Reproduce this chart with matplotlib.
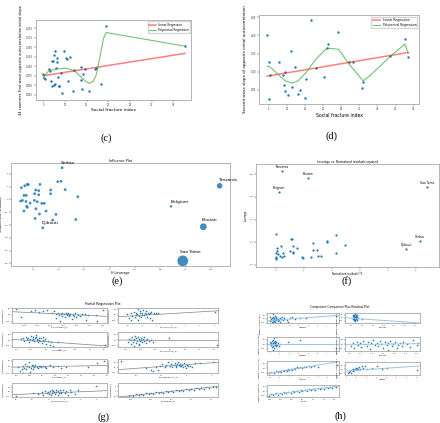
import numpy as np
import matplotlib
matplotlib.use("Agg")
import matplotlib.pyplot as plt

W, H = 440, 423
BLUE = '#1f77b4'
SPINE = '#a8a8a8'

# ---------------- (c) first wave slope vs social fracture index
c_x = [5.0, 5.2, 5.4, 6.2, 6.5, 6.7, 6.9, 7.1, 7.3, 7.5, 7.5, 7.7, 7.8, 7.9, 8.1, 8.2, 8.4, 8.5, 8.6, 9.0,
       9.3, 9.8, 10.2, 10.4, 10.8, 11.2, 11.9, 12.1, 13.6, 13.8, 14.0, 14.2, 14.6, 15.6, 16.9, 17.2, 18.2, 19.5, 37.7]
c_y = [0.079, 0.068, 0.066, 0.094, 0.088, 0.060, 0.047, 0.115, 0.115, 0.129, 0.050, 0.053, 0.139, 0.095, 0.123,
       0.110, 0.071, 0.048, 0.047, 0.082, 0.029, 0.141, 0.121, 0.120, 0.062, 0.125, 0.035, 0.089, 0.097, 0.064,
       0.040, 0.079, 0.094, 0.035, 0.093, 0.095, 0.054, 0.207, 0.153]
c_lin_x = [5.0, 37.7]
c_lin_y = [0.075, 0.134]
c_poly_x = [5.0, 6.2, 8.1, 10.0, 11.2, 12.4, 13.6, 14.8, 15.6, 16.5, 17.2, 18.0, 18.9, 19.5, 37.7]
c_poly_y = [0.070, 0.088, 0.093, 0.095, 0.092, 0.086, 0.073, 0.060, 0.055, 0.060, 0.077, 0.121, 0.174, 0.189, 0.153]

# ---------------- (d) second wave slope vs social fracture index
d_x = [4.45, 4.9, 5.1, 5.3, 7.8, 8.8, 9.0, 9.3, 9.5, 10.1, 11.0, 11.4, 12.2, 12.9, 13.5, 14.8, 15.3, 16.5,
       18.0, 20.2, 21.0, 21.4, 24.2, 27.0, 28.3, 30.8, 31.1, 38.6, 42.6, 43.5]
d_y = [0.200, 0.126, 0.025, 0.091, 0.126, 0.090, 0.063, 0.048, 0.100, 0.037, 0.157, 0.057, 0.113, 0.038, 0.050,
       0.029, 0.081, 0.241, 0.110, 0.087, 0.166, 0.175, 0.209, 0.126, 0.127, 0.056, 0.071, 0.144, 0.189, 0.141]
d_lin_x = [4.45, 43.5]
d_lin_y = [0.088, 0.153]
d_poly_x = [4.45, 5.3, 7.8, 9.5, 11.4, 13.0, 15.4, 18.0, 21.0, 24.2, 27.0, 31.0, 33.0, 38.6, 42.6, 43.5]
d_poly_y = [0.116, 0.113, 0.090, 0.075, 0.069, 0.075, 0.100, 0.135, 0.165, 0.162, 0.123, 0.075, 0.090, 0.143,
            0.176, 0.151]

# ---------------- (e) influence plot
e_lev = [0.213, 0.053, 0.066, 0.076, 0.080, 0.126, 0.196, 0.209, 0.225, 0.168, 0.168, 0.109, 0.121, 0.105,
         0.121, 0.063, 0.072, 0.275, 0.050, 0.057, 0.071, 0.087, 0.104, 0.115, 0.133, 0.143, 0.074, 0.076,
         0.063, 0.110, 0.150, 0.124, 0.189, 0.107, 0.176, 0.267, 0.137, 0.833, 0.642, 0.769, 0.688]
e_res = [2.47, 0.91, 1.06, 1.17, 1.15, 1.17, 1.38, 1.41, 0.76, 0.73, 0.44, 0.73, 0.68, 0.44, 0.36, 0.31, 0.31,
         0.21, -0.13, -0.08, -0.16, -0.29, -0.08, -0.19, -0.31, -0.31, -0.54, -0.62, -0.91, -0.73, -0.91,
         -1.14, -1.17, -1.49, -1.62, -1.57, -2.22, 1.06, -0.55, -2.14, -4.80]
e_size = [4] * 37 + [16, 3, 24, 60]
e_names = ['Serbia', 'Djibouti', 'Tanzania', 'Belgium', 'Bhutan', 'Sao Tome']
e_name_idx = [0, 36, 37, 38, 39, 40]

# ---------------- (f) leverage vs normalized residuals squared
f_res2 = [0.0, 0.02, 0.05, 0.0, -0.01, 0.01, 0.0, 0.08, 0.14, 0.18, 0.20, 0.26, 0.29, 0.50, 0.53, 0.56, 0.60,
          0.60, 0.62, 0.74, 0.92, 0.98, 1.25, 1.31, 1.34, 1.48, 1.51, 1.62, 1.82, 1.84, 2.13, 2.13, 2.47,
          0.20, 1.14, 0.11, 5.42, 5.16, 4.66]
f_lev = [0.272, 0.145, 0.124, 0.106, 0.068, 0.056, 0.053, 0.097, 0.074, 0.165, 0.065, 0.100, 0.077, 0.121,
         0.224, 0.224, 0.165, 0.109, 0.106, 0.148, 0.065, 0.056, 0.065, 0.189, 0.127, 0.127, 0.080, 0.077,
         0.198, 0.210, 0.266, 0.106, 0.171, 0.833, 0.769, 0.642, 0.688, 0.213, 0.137]
f_names = ['Tanzania', 'Bhutan', 'Belgium', 'Sao Tome', 'Serbia', 'Djibouti']
f_name_idx = [33, 34, 35, 36, 37, 38]

# ---------------- (g) partial regression plot, 8 panels
g1_x = [-0.184, -0.166, -0.125, -0.109, -0.094, -0.081, -0.063, -0.046, -0.038, -0.029, -0.021, -0.019, -0.013,
        -0.009, -0.006, 0.0, 0.004, 0.006, 0.010, 0.013, 0.016, 0.019, 0.021, 0.025, 0.029, 0.034, 0.038, 0.041,
        0.046, 0.054, 0.060, 0.069, 0.079, 0.084, 0.094, 0.121, 0.126, 0.151, -0.031, -0.015]
g1_y = [2.14, -0.60, 1.31, 1.67, 1.07, 1.43, 1.67, 0.83, 1.31, 0.48, 0.83, 0.0, 0.48, 0.71, -0.24, 0.24, -0.71,
        0.71, 0.0, 0.36, 0.83, -0.36, 0.12, 0.48, -1.31, 0.0, -0.24, 0.60, -0.71, 0.0, -0.24, 0.24, 0.48, -1.67,
        -0.12, 0.0, -2.14, 1.67, -0.95, -2.14]
g1_line = [1.19, -0.48]
g2_x = [-1.05, -0.93, -0.81, -0.70, -0.60, -0.53, -0.47, -0.42, -0.35, -0.30, -0.23, -0.19, -0.14, -0.07, -0.02,
        0.0, 0.05, 0.09, 0.16, 0.23, 0.28, 0.33, 0.40, 0.47, 0.51, 0.56, 0.63, 0.70, 0.79, 0.98, 1.09, -0.30,
        -0.77, 5.05]
g2_y = [0.16, -1.72, 0.63, -0.63, 1.25, -1.25, -0.16, 0.94, 0.31, -2.19, -0.47, 1.41, 0.63, -0.94, 0.0, 0.94,
        2.03, -0.31, 0.63, 0.31, 1.41, -0.94, 0.94, 0.16, -1.72, 0.63, 1.25, -2.5, 0.94, 0.78, 0.63, 2.5, -2.5,
        1.09]
g2_line = [-0.94, 1.72]
g3_x = [-0.86, -0.80, -0.75, -0.68, -0.64, -0.60, -0.57, -0.55, -0.51, -0.49, -0.45, -0.43, -0.41, -0.38, -0.35,
        -0.32, -0.30, -0.27, -0.25, -0.23, -0.20, -0.17, -0.15, -0.11, -0.09, -0.06, -0.02, 0.02, 0.08, 0.14,
        0.19, 0.23, 0.42, 2.01, -0.34]
g3_y = [0.31, 0.78, -0.31, 1.56, 0.31, 1.09, -0.78, 0.63, 1.88, 0.0, 1.25, 0.31, -0.63, 0.78, 1.56, 0.0, 0.47,
        -0.94, 1.09, 0.16, -0.31, 0.78, -1.25, 0.0, 1.25, -0.63, 0.31, -1.56, -0.47, -2.03, -0.78, -2.81, -0.78,
        -2.03, 2.34]
g3_line = [0.31, -2.66]
g4_x = [-0.94, -0.89, -0.85, -0.82, -0.80, -0.77, -0.74, -0.72, -0.69, -0.67, -0.65, -0.63, -0.60, -0.58, -0.56,
        -0.53, -0.51, -0.49, -0.45, -0.43, -0.41, -0.38, -0.34, -0.32, -0.28, -0.23, -0.15, -0.09, 0.45, 2.09,
        -0.57, -0.75]
g4_y = [-0.78, 0.31, -1.88, 0.0, 1.25, -0.94, 0.63, -0.16, 1.88, -1.25, 0.78, -0.31, 1.41, -1.56, 0.31, -0.63,
        1.09, 0.0, -1.09, 0.63, -0.47, 1.56, 0.0, -1.25, 0.47, -0.47, 0.16, -0.78, 0.78, -2.03, -2.34, -2.5]
g4_line = [0.0, -0.3]
g5_x = [-0.94, -0.87, -0.81, -0.74, -0.71, -0.67, -0.62, -0.58, -0.54, -0.51, -0.46, -0.42, -0.38, -0.36, -0.32,
        -0.28, -0.23, -0.19, -0.14, -0.10, -0.04, 0.03, 0.09, 0.15, 0.28, 0.41, 0.60, 0.73, 0.92, 1.76, 2.10,
        2.40, -0.49, -0.77]
g5_y = [0.0, -1.71, -1.05, 0.53, -0.39, 1.32, -0.79, 0.26, 1.97, 0.0, -0.53, 0.92, 0.26, -1.05, -0.13, 0.79,
        0.0, -0.53, 0.53, 0.13, -0.26, 0.53, 0.0, -0.53, 0.66, 0.0, 0.13, -0.39, -0.13, 0.0, 1.58, 2.24, -2.11,
        -2.37]
g5_line = [-0.13, 0.53]
g6_x = [-5.2, -3.2, -2.8, -2.4, -2.13, -1.92, -1.73, -1.6, -1.47, -1.33, -1.2, -1.12, -1.01, -0.93, -0.85, -0.8,
        -0.72, -0.67, -0.59, -0.53, -0.48, -0.4, -0.32, -0.27, -0.19, -0.13, -0.05, 0.05, 0.13, 0.27, 0.48, 0.67,
        1.07, 2.13, -2.67, -2.27]
g6_y = [2.83, -0.5, -1.33, 0.0, 0.67, 1.67, 0.0, 1.17, 2.33, 0.67, 1.67, 0.0, 1.17, 2.0, 0.67, 0.0, 1.5, 2.33,
        1.0, 0.33, 1.67, 0.67, 1.17, 0.0, 2.0, 0.67, -0.5, 1.17, 0.33, 0.67, 0.0, 2.0, 2.0, 2.33, -2.17, -1.67]
g6_line = [-1.33, 2.33]
g7_x = [-4.04, -1.88, -1.25, -0.83, -0.63, -0.42, -0.21, 0.0, 0.13, 0.21, 0.33, 0.42, 0.54, 0.63, 0.75, 0.83,
        0.96, 1.04, 1.17, 1.25, 1.38, 1.46, 1.58, 1.67, 1.88, 2.08, 2.29, 2.5, 2.71, 2.92, 3.33, 3.75, 6.04, 7.13]
g7_y = [-2.59, -0.74, -1.3, -0.37, -1.67, 0.56, -0.74, -0.19, -1.3, 0.19, -1.67, 1.11, -0.74, 0.56, -0.37,
        -1.11, 0.93, 0.0, -1.67, 0.56, -0.56, 1.11, -0.93, 0.0, 0.74, -0.74, 0.19, -1.67, 0.74, -0.37, -1.11,
        1.11, 2.96, -2.96]
g7_line = [-1.67, 0.56]
g8_x = [-0.45, -0.42, -0.38, -0.35, -0.32, -0.30, -0.28, -0.25, -0.22, -0.2, -0.18, -0.15, -0.12, -0.1, -0.08,
        -0.05, -0.03, 0.0, 0.02, 0.05, 0.08, 0.1, 0.12, 0.15, 0.18, 0.2, 0.23, 0.25, 0.28, 0.3, 0.33, 0.35, 0.38,
        0.42, 0.45]
g8_y = [-5.5, -4.2, -4.8, -3.1, -3.9, -2.7, -3.3, -2.0, -2.9, -1.5, -2.5, -1.0, -1.8, -0.5, -1.4, 0.3, -0.8, 0.5,
        -0.2, 1.0, 0.2, 1.6, 0.8, 2.0, 1.2, 2.5, 1.8, 3.0, 2.2, 3.5, 2.8, 4.0, 3.5, 4.6, 4.8]
g8_line = [-5.67, 5.0]
g_xlabels = ['e(lnfirstslope | X)', 'e(lnfirstcase0 | X)', 'e(lncases0 | X)', 'e(lnfirstcase1 | X)',
             'e(lncases1 | X)', 'e(lnhospital117 | X)', 'e(lnsocialfrac | X)', 'e(lnslope0 | X)']
g_ylabel = 'e(secondslope | X)'

# ---------------- (h) component-component plus residual plot, 7 panels
h1_x = [0.93, 1.0, 1.07, 1.11, 1.18, 1.21, 1.25, 1.28, 1.32, 1.35, 1.39, 1.42, 1.46, 1.49, 1.53, 1.56, 1.6, 1.63,
        1.70, 1.77, 1.84, 1.91, 1.98, 2.05, 2.12, 2.23, 2.33, 2.47, 2.75, 2.93, 3.11, 3.28, 3.63, 4.16, 4.79,
        8.02, 1.28]
h1_y = [-1.67, 1.04, -0.21, -1.04, 0.42, -1.88, 1.46, -0.63, -2.29, 0.0, 0.83, -1.25, 1.88, -0.42, -1.88, 0.42,
        -0.83, 1.25, -0.21, -1.46, 0.21, -0.83, 0.83, -2.08, -0.21, 1.46, -1.04, 0.42, -0.63, -2.08, 0.42, 1.04,
        -0.21, 0.42, 0.83, 1.88, 3.54]
h1_line = [-1.25, 2.5]
h2_x = [2.74, 2.82, 2.89, 2.89, 2.97, 3.05, 3.05, 3.13, 3.13, 3.21, 3.29, 3.29, 3.37, 3.37, 3.45, 3.45, 3.53, 3.53,
        3.6, 3.68, 3.68, 3.76, 3.84, 3.84, 4.08, 4.87, 17.5, 3.21]
h2_y = [2.71, 1.25, 0.0, -1.46, 2.08, 0.63, -0.83, 1.67, -2.08, 0.21, 3.13, -0.42, 1.04, -1.67, 2.08, -0.21, 0.63,
        -1.04, 1.67, 0.0, -1.88, 2.5, 0.83, -0.63, -0.21, -1.25, -4.17, -2.92]
h2_line = [0.0, -4.58]
h3_x = [1.0, 1.07, 1.11, 1.14, 1.18, 1.21, 1.25, 1.28, 1.32, 1.35, 1.39, 1.42, 1.46, 1.49, 1.53, 1.56, 1.6, 1.63,
        1.7, 1.77, 1.88, 2.05, 2.93, 4.16, 8.02, 1.28, 1.42]
h3_y = [1.54, -0.58, 0.58, -1.35, 1.92, 0.0, 0.96, -0.96, 2.5, 0.19, 1.35, -1.92, 0.58, -0.38, 1.73, -1.15, 0.38,
        1.15, -0.38, 0.77, -0.77, 0.19, 1.35, 2.12, -1.73, -3.27, 3.46]
h3_line = [0.0, 0.0]
h4_x = [10.03, 10.12, 10.19, 10.3, 10.37, 10.45, 10.52, 10.6, 10.67, 10.75, 10.82, 10.9, 10.97, 11.05, 11.12, 11.2,
        11.27, 11.35, 11.42, 11.5, 11.57, 11.65, 11.72, 11.8, 11.87, 11.95, 12.02, 12.1, 12.17, 12.25, 12.32,
        12.4, 12.55, 12.7, 12.85, 13.0, 13.07, 11.72]
h4_y = [-0.96, 0.58, -1.92, 1.54, -0.38, 0.96, -1.35, 1.92, 0.19, -0.77, 1.35, -2.31, 0.58, 2.5, -0.38, 0.96,
        -1.15, 1.73, 0.0, -1.73, 1.15, -0.58, 0.58, 1.92, -1.15, 0.19, 1.35, -2.12, -0.19, 0.96, -0.96, 1.54,
        0.19, -1.35, 2.12, -0.38, 0.96, -2.88]
h4_line = [-0.19, 0.38]
h5_x = [-1.1, -0.9, -0.6, -0.4, -0.2, 0.0, 0.1, 0.3, 0.4, 0.6, 0.7, 0.9, 1.0, 1.2, 1.3, 1.5, 1.6, 1.8, 1.9, 2.1,
        2.3, 2.5, 2.7, 3.0, 3.3, 3.6, 4.0, 6.0]
h5_y = [-2.9, -2.3, -2.6, -1.7, -2.2, -1.4, -2.0, -1.0, -1.6, -0.8, -1.3, -0.4, -1.0, -0.1, -0.7, 0.3, -0.2, 0.5,
        0.0, 0.9, 0.3, 1.0, 0.6, 1.4, 0.8, 1.5, 0.7, 2.0]
h5_line = [-2.88, 3.85]
h6_x = [0.83, 1.33, 1.67, 2.0, 2.5, 3.0, 3.33, 3.67, 4.17, 4.5, 5.0, 5.33, 5.83, 6.33, 6.67, 7.5, 8.33, 9.17, 10.0,
        12.5, 15.0, 17.5, 20.0, 35.0]
h6_y = [-2.73, -1.59, -0.91, -2.27, -0.45, -1.14, 0.45, -0.68, 0.0, 0.91, -0.45, 1.36, 0.23, 1.82, 0.68, 2.27,
        1.14, 2.73, 0.0, 1.36, 2.27, 0.0, 1.36, -0.45]
h6_line = [-1.14, 2.5]
h7_x = [-0.62, -0.58, -0.55, -0.5, -0.45, -0.42, -0.38, -0.35, -0.3, -0.27, -0.22, -0.18, -0.15, -0.1, -0.07,
        -0.03, 0.0, 0.04, 0.08, 0.12, 0.15, 0.2, 0.24, 0.28, 0.32, 0.35, 0.4, 0.43, 0.47, 0.52, 0.55, 0.6, 0.62]
h7_y = [-2.8, -1.6, -2.2, -1.2, -1.9, -1.0, -1.6, -0.7, -1.3, -0.4, -1.0, -0.1, -0.7, 0.3, -0.4, 0.5, -0.1, 0.8,
        0.2, 1.1, 0.5, 1.4, 0.8, 1.7, 1.1, 2.0, 1.4, 2.3, 1.8, 2.6, 2.0, 2.9, 2.3]
h7_line = [-2.31, 2.88]
h_xlabels = ['lncases0', 'secondB', 'lncases1', 'secondE', 'lnfirst17', 'lncases', 'lnslope']


fig = plt.figure(figsize=(W / 100, H / 100), dpi=100)


def px_axes(l, t, r, b):
    return fig.add_axes([l / W, 1 - b / H, (r - l) / W, (b - t) / H])


def style(ax, tsize=1.8):
    for s in ax.spines.values():
        s.set_color(SPINE)
        s.set_linewidth(0.6)
    ax.tick_params(labelsize=tsize, length=1.2, width=0.3, pad=0.8, colors='#333333')


def caption(x, y, txt):
    fig.text(x / W, 1 - y / H, txt, ha='center', va='center', fontsize=7.5, family='Liberation Serif')


# (c)
ax = px_axes(36, 20, 191, 100)
ax.scatter(c_x, c_y, s=3, color=BLUE, lw=0)
ax.plot(c_lin_x, c_lin_y, color='red', lw=1.1, alpha=0.5, label='Linear Regression')
ax.plot(c_poly_x, c_poly_y, color='#2ca02c', lw=0.8, alpha=0.65, label='Polynomial Regression')
ax.set_xlim(3.3, 39.1)
ax.set_ylim(0.011, 0.222)
ax.set_xticks(range(5, 40, 5))
ax.set_yticks([0.025, 0.05, 0.075, 0.1, 0.125, 0.15, 0.175, 0.2])
ax.yaxis.set_major_formatter(matplotlib.ticker.FormatStrFormatter('%.3f'))
style(ax)
ax.set_xlabel('Social fracture index', fontsize=3.2, labelpad=1)
ax.set_ylabel('44 countries First wave opposite autocorrelation initial slope', fontsize=2.6, labelpad=2)
ax.legend(fontsize=2, loc='upper right', frameon=True, framealpha=0.8, borderpad=0.4, handlelength=2.5)
caption(106, 138, '(c)')

# (d)
ax = px_axes(259, 15, 419, 104)
ax.scatter(d_x, d_y, s=3, color=BLUE, lw=0)
ax.plot(d_lin_x, d_lin_y, color='red', lw=1.1, alpha=0.5, label='Linear Regression')
ax.plot(d_poly_x, d_poly_y, color='#2ca02c', lw=0.8, alpha=0.65, label='Polynomial Regression')
ax.set_xlim(2.2, 46.5)
ax.set_ylim(0.0115, 0.256)
ax.set_xticks(range(5, 50, 5))
ax.set_yticks([0.05, 0.1, 0.15, 0.2, 0.25])
style(ax)
ax.set_xlabel('Social fracture index', fontsize=3.3, labelpad=1.5)
ax.set_ylabel('Second wave slope of opposite initial autocorrelation', fontsize=2.9, labelpad=3)
ax.legend(fontsize=2.2, loc='upper right', frameon=True, framealpha=0.8, borderpad=0.4, handlelength=2.5)
caption(331, 136, '(d)')

# (e)
ax = px_axes(11, 163, 230, 266)
ax.scatter(e_lev, e_res, s=e_size, color=BLUE, alpha=0.85, lw=0)
for name, i in zip(e_names, e_name_idx):
    r = np.sqrt(e_size[i]) / 2
    ax.annotate(name, (e_lev[i], e_res[i]), xytext=(-r * 0.6, r + 0.8), textcoords='offset points',
                fontsize=3.2, ha='left', va='bottom', annotation_clip=False)
ax.set_xlim(0.012, 0.874)
ax.set_ylim(-5.2, 2.84)
ax.set_xticks([0.1, 0.2, 0.3, 0.4, 0.5, 0.6, 0.7, 0.8])
ax.set_yticks(range(-5, 3))
style(ax, 1.7)
ax.set_title('Influence Plot', fontsize=2.4, pad=1)
ax.set_xlabel('H Leverage', fontsize=2.3, labelpad=1)
ax.set_ylabel('Studentized Residuals', fontsize=2.3, labelpad=1)
caption(117, 281, '(e)')

# (f)
ax = px_axes(256, 164, 439, 267)
ax.scatter(f_res2, f_lev, s=2.5, color=BLUE, lw=0)
for name, i in zip(f_names, f_name_idx):
    ax.annotate(name, (f_res2[i], f_lev[i]), xytext=(0, 1.5), textcoords='offset points',
                fontsize=2.2, ha='center', va='bottom')
ax.set_xlim(-0.72, 5.84)
ax.set_ylim(-0.02, 0.892)
ax.set_xticks(range(0, 6))
ax.set_yticks([0.0, 0.2, 0.4, 0.6, 0.8])
style(ax, 1.7)
ax.set_title('Leverage vs. Normalized residuals squared', fontsize=2.1, pad=1)
ax.set_xlabel('Normalized residuals**2', fontsize=1.8, labelpad=1)
ax.set_ylabel('Leverage', fontsize=1.8, labelpad=1)
caption(347, 281, '(f)')


def small_panel(box, x, y, line, xlim, ylim, xticks, yticks, xlabel, ylabel, lcolor, lw, ylab_pos=0.5):
    a = px_axes(*box)
    a.scatter(x, y, s=1.3, color=BLUE, lw=0)
    a.plot(xlim, line, color=lcolor, lw=lw)
    a.set_xlim(*xlim)
    a.set_ylim(*ylim)
    a.set_xticks(xticks)
    a.set_yticks(yticks)
    style(a, 1.3)
    a.tick_params(length=0.8, pad=0.5)
    a.set_xlabel(xlabel, fontsize=1.4, labelpad=0.5)
    a.set_ylabel(ylabel, fontsize=1.1, labelpad=0.5)
    if ylab_pos != 0.5:
        a.yaxis.set_label_coords(-0.09, ylab_pos)
    return a


# (g)
gcol = '#808080'
fig.text(103 / W, 1 - 304 / H, 'Partial Regression Plot', ha='center', va='center', fontsize=2.3)
g_rows = [(308, 323), (332, 347), (359, 373), (383, 397)]
g_cols = [(12, 107), (118, 218)]
g_data = [(g1_x, g1_y, g1_line, (-0.199, 0.165), (-2.86, 2.26), [-0.15, -0.1, -0.05, 0, 0.05, 0.1, 0.15], [-2.5, 0, 2.5]),
          (g2_x, g2_y, g2_line, (-1.7, 5.28), (-3.75, 2.97), range(-1, 6), [-2.5, 0, 2.5]),
          (g3_x, g3_y, g3_line, (-1.16, 2.09), (-3.13, 3.6), [-1, -0.5, 0, 0.5, 1, 1.5, 2], [-2.5, 0, 2.5]),
          (g4_x, g4_y, g4_line, (-1.28, 2.13), (-3.13, 3.6), [-1, -0.5, 0, 0.5, 1, 1.5, 2], [-2.5, 0, 2.5]),
          (g5_x, g5_y, g5_line, (-1.18, 2.49), (-2.37, 3.16), [-1, -0.5, 0, 0.5, 1, 1.5, 2, 2.5], [-2.5, 0, 2.5]),
          (g6_x, g6_y, g6_line, (-5.47, 2.53), (-3.0, 4.0), [-4, -2, 0, 2], [-2.5, 0, 2.5]),
          (g7_x, g7_y, g7_line, (-4.54, 7.38), (-2.96, 4.81), [-4, -2, 0, 2, 4, 6], [-2.5, 0, 2.5]),
          (g8_x, g8_y, g8_line, (-0.533, 0.467), (-5.67, 8.3), [-0.4, -0.2, 0.0, 0.2, 0.4], [-5, 0, 5])]
for k, (gx, gy, gl, xl, yl, xt, yt) in enumerate(g_data):
    r, c = divmod(k, 2)
    box = (g_cols[c][0], g_rows[r][0], g_cols[c][1], g_rows[r][1])
    small_panel(box, gx, gy, gl, xl, yl, xt, yt, g_xlabels[k], g_ylabel, gcol, 0.5)
caption(103, 417, '(g)')

# (h)
hcol = '#9cc3e4'
fig.text(340 / W, 1 - 307 / H, 'Component-Component Plus Residual Plot', ha='center', va='center', fontsize=2.1)
h_boxes = [(267, 313, 339, 323), (345, 313, 420, 323), (267, 337, 339, 351), (345, 337, 420, 351),
           (267, 361, 339, 375), (345, 362, 420, 375), (267, 385, 339, 397)]
h_data = [(h1_x, h1_y, h1_line, (0.65, 8.3), (-2.71, 3.96), range(1, 9), [-2.5, 0, 2.5]),
          (h2_x, h2_y, h2_line, (0.92, 18.68), (-4.58, 4.17), [2.5, 5, 7.5, 10, 12.5, 15, 17.5], [-2.5, 0, 2.5]),
          (h3_x, h3_y, h3_line, (0.65, 8.3), (-3.65, 4.04), range(1, 9), [-2.5, 0, 2.5]),
          (h4_x, h4_y, h4_line, (9.78, 13.15), (-3.65, 4.04), [10, 10.5, 11, 11.5, 12, 12.5, 13], [-2.5, 0, 2.5]),
          (h5_x, h5_y, h5_line, (-1.34, 6.17), (-3.85, 4.23), range(-1, 7), [-2.5, 0, 2.5]),
          (h6_x, h6_y, h6_line, (-0.83, 36.67), (-3.86, 5.23), range(0, 40, 5), [-2.5, 0, 2.5]),
          (h7_x, h7_y, h7_line, (-0.66, 0.68), (-3.27, 3.46), [-0.6, -0.4, -0.2, 0, 0.2, 0.4, 0.6], [-2.5, 0, 2.5])]
for k, (hx, hy, hl, xl, yl, xt, yt) in enumerate(h_data):
    small_panel(h_boxes[k], hx, hy, hl, xl, yl, xt, yt, h_xlabels[k],
                'Residual + %s*beta_%d' % (h_xlabels[k], k + 1), hcol, 0.7,
                ylab_pos=-0.1 if k < 2 else 0.5)
caption(340, 416, '(h)')

fig.savefig('out.png', dpi=100)
